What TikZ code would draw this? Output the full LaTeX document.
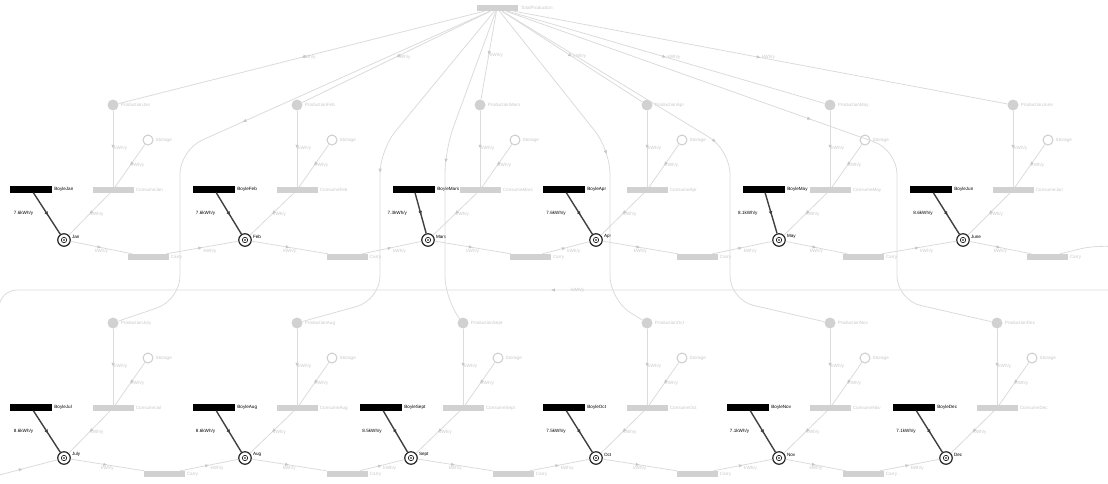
\documentclass[tikz,border=0pt]{standalone}
\usepackage{fontspec}
\setsansfont{Liberation Sans}
\usetikzlibrary{positioning,decorations.markings,arrows.meta}

\tikzset{
  lbl/.style = {font=\sffamily\fontsize{4.6}{5}\selectfont, inner sep=1pt},
  faint/.style = {lbl, text=black!22},
  blackbar/.style = {fill=black, minimum width=42pt, minimum height=7pt, inner sep=0pt},
  greybar/.style = {fill=black!18, minimum width=41pt, minimum height=6pt, inner sep=0pt},
  source/.style = {circle, fill=black!18, minimum size=11pt, inner sep=0pt},
  tank/.style = {circle, draw=black!20, fill=white, line width=1pt, minimum size=10pt, inner sep=0pt},
  goal/.style = {circle, draw=black!85, line width=1.2pt, minimum size=12.5pt, inner sep=0pt,
    path picture={\draw[line width=0.7pt] (path picture bounding box.center) circle (2.7pt);
      \fill (path picture bounding box.center) circle (0.9pt);}},
  flow/.style = {draw=black!14, line width=0.8pt, postaction={decorate},
    decoration={markings, mark=at position 0.5 with {\arrow[black!22]{Latex[length=4pt,width=3.5pt]}}}},
  feed/.style = {draw=black!75, line width=1.4pt, postaction={decorate},
    decoration={markings, mark=at position 0.55 with {\arrow{Latex[length=4pt,width=4pt]}}}}
}

\begin{document}
\begin{tikzpicture}[x=1pt, y=-1pt]
  \useasboundingbox (0,0) rectangle (1108,483);
  \clip (0,0) rectangle (1108,483);

  % top transition
  \node[greybar] (top) at (497,8) {};
  \node[faint, right=2pt of top] {TotalProduction};

  % one block per month
  \foreach \i/\cx/\bx/\gx/\dy/\m/\b/\v in {
      1/64/31/113/0/Jan/Jan/7.6, 2/245/214/297/0/Feb/Feb/7.6, 3/428/414/480/0/Mars/Mars/7.3,
      4/596/564/647/0/Apr/Apr/7.6, 5/779/764/830/0/May/May/8.1, 6/963/931/1013/0/June/Jun/8.6,
      7/64/31/113/218/July/Jul/8.6, 8/245/214/297/218/Aug/Aug/8.6, 9/411/381/463/218/Sept/Sept/8.5,
      10/596/564/647/218/Oct/Oct/7.5, 11/779/748/830/218/Nov/Nov/7.1, 12/946/914/997/218/Dec/Dec/7.1}
  {
    \node[source] (g\i) at (\gx,105+\dy) {};
    \node[tank] (o\i) at (\gx+35,140+\dy) {};
    \node[greybar] (c\i) at (\gx,190+\dy) {};
    \node[blackbar] (b\i) at (\bx,189+\dy) {};
    \node[goal] (t\i) at (\cx,240+\dy) {};

    \node[faint, right=1pt of g\i] {Production\m};
    \node[faint, right=1pt of o\i] {Storage};
    \node[faint, right=1pt of c\i] {Consume\b};
    \node[lbl, right=1pt of b\i] {Boyle\b};
    \node[lbl, anchor=south west] at (t\i.east) {\m};

    \draw[flow] (g\i) -- node[faint, right] {kWh/y} (c\i);
    \draw[flow] (o\i) -- node[faint, right] {kWh/y} (c\i);
    \draw[flow] (c\i) -- node[faint, right] {kWh/y} (t\i);
    \draw[feed] (b\i) -- node[lbl, left=12pt] {\v kWh/y} (t\i);
  }

  % production lines
  \foreach \i in {1,...,6}
    \draw[flow] (top) -- node[faint, right] {kWh/y} (g\i);
  \foreach \i/\x in {7/180, 8/380, 9/445, 10/610, 11/730, 12/897}
    \draw[flow, rounded corners=24pt] (top) -- (\x,150) -- (\x,300) -- (g\i);

  % month to month
  \foreach \i/\j/\lx/\ly in {1/2/148/257, 2/3/347/257, 3/4/530/257, 4/5/697/257, 5/6/863/257,
      7/8/164/474, 8/9/347/474, 9/10/513/474, 10/11/697/474, 11/12/863/474}
  {
    \node[greybar] (l\i) at (\lx,\ly) {};
    \node[faint, right=1pt of l\i] {Carry};
    \draw[flow] (t\i) -- node[faint, below] {kWh/y} (l\i);
    \draw[flow] (l\i) -- node[faint, below right] {kWh/y} (t\j);
  }
  \node[greybar] (l6) at (1047,257) {};
  \node[faint, right=1pt of l6] {Carry};
  \draw[flow] (t6) -- node[faint, below] {kWh/y} (l6);
  \coordinate (w1) at (1135,290);
  \coordinate (w2) at (-1,290);
  \draw[flow, rounded corners=20pt] (l6) -- (1100,244) -- (1135,250) -- (w1);
  \draw[flow, rounded corners=18pt] (w1) -- node[faint, right=3pt] {kWh/y} (w2) -- (-1,330);
  \draw[flow, rounded corners=20pt] (-12,478) -- (t7);
\end{tikzpicture}
\end{document}
